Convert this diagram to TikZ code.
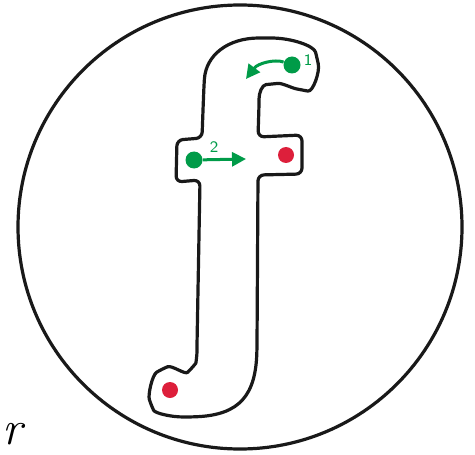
\documentclass[tikz,border=0pt]{standalone}
\usepackage{tikz}
\usetikzlibrary{arrows.meta}
\definecolor{startgreen}{RGB}{0, 155, 72}
\definecolor{endred}{RGB}{221, 31, 59}
\tikzset{
  outline/.style={draw=black!90, line width=1.6pt, line join=round},
  startdot/.style={circle, fill=startgreen, inner sep=0pt, minimum size=8.5pt},
  enddot/.style={circle, fill=endred, inner sep=0pt, minimum size=8pt},
  strokearrow/.style={-{Triangle[length=7pt,width=7pt]}, line width=1.5pt, draw=startgreen},
  stepnum/.style={font=\sffamily\footnotesize, text=startgreen, inner sep=1pt}
}
\begin{document}
\begin{tikzpicture}[x=0.5pt, y=-0.5pt]
  \useasboundingbox (0,0) rectangle (475,454);

  %% ---- frame ----
  \draw[outline] (240,227) circle[radius=222];

  %% ---- letter f outline ----
  \draw[outline, rounded corners=3pt]
    (203,110) -- (204,85)
    .. controls (206,55) and (228,38) .. (265,38)
    .. controls (292,38) and (314,46) .. (317,58)
    .. controls (320,72) and (313,92) .. (302,90)
    .. controls (292,88) and (282,83) .. (272,84)
    .. controls (262,85) and (259,93) .. (259,105)
    -- (258,137) -- (302,135) -- (302,174) -- (258,175)
    -- (257,345)
    .. controls (256,395) and (240,415) .. (190,417)
    .. controls (170,417) and (155,413) .. (151,405)
    .. controls (148,395) and (152,375) .. (162,369)
    .. controls (172,365) and (185,375) .. (192,368)
    .. controls (196,363) and (197,355) .. (197,345)
    -- (200,180) -- (176,182) -- (177,140) -- (202,138) -- cycle;

  %% ---- stroke starts and ends ----
  \node[startdot] (start1) at (292,65) {};
  \node[startdot] (start2) at (194,160) {};
  \node[enddot] (end2) at (286,155) {};
  \node[enddot] (end3) at (170,390) {};

  \coordinate (dir1) at (246,79);
  \coordinate (dir2) at (246,159);

  \draw[strokearrow] (start1) .. controls (275,59) and (258,63) .. (dir1);
  \draw[strokearrow] (start2) -- (dir2);

  \node[stepnum] (num1) at (308,60) {1};
  \node[stepnum] (num2) at (214,147) {2};

  %% ---- letter at the left edge ----
  \node[font=\fontsize{24}{24}\selectfont\itshape, anchor=base west, inner sep=0pt] (word) at (2,444) {r};

\end{tikzpicture}
\end{document}
